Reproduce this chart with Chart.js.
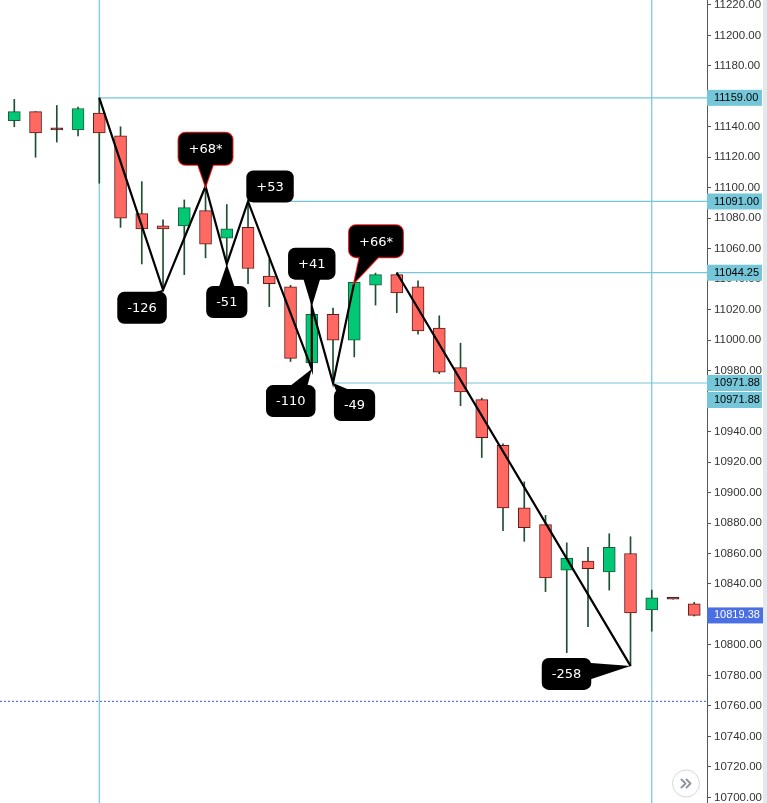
<!DOCTYPE html>
<html lang="en">
<head>
<meta charset="UTF-8">
<title>ZigZag candles</title>
<style>
  html, body { margin: 0; padding: 0; background: #fff; }
  #wrap { width: 767px; height: 803px; position: relative; }
</style>
</head>
<body>
<div id="wrap"><canvas id="chart"></canvas></div>

<script src="https://cdn.jsdelivr.net/npm/chart.js@4"></script>
<script>
// candles, one per bar
const opens  = [11144, 11150, 11138, 11138, 11149, 11134, 11083, 11075, 11075, 11085, 11067, 11074, 11042, 11035, 10985, 11017, 11000, 11036, 11043, 11035, 11008, 10982, 10961, 10931, 10890, 10879, 10849, 10855, 10848, 10860, 10823, 10830, 10827];
const highs  = [11158, 11150, 11154, 11153, 11159, 11140, 11104, 11079, 11092, 11101, 11089, 11091, 11053, 11036, 11022, 11021, 11038, 11044, 11044.25, 11039, 11016, 10998, 10962, 10932, 10907, 10885, 10867, 10864, 10873, 10871, 10836, 10830, 10828];
const lows   = [11140, 11120, 11130, 11134, 11103, 11074, 11050, 11033, 11043, 11054, 11050, 11037, 11022, 10986, 10981, 10971.88, 10989, 11023, 11018, 11004, 10978, 10957, 10923, 10875, 10868, 10835, 10795, 10812, 10836, 10786.25, 10809, 10830, 10819];
const closes = [11150, 11136, 11138, 11152, 11136, 11080, 11073, 11073, 11087, 11063, 11073, 11047, 11037, 10988, 11017, 11000, 11037.88, 11043, 11031, 11006, 10979, 10966, 10936, 10890, 10877, 10844, 10857, 10850, 10864, 10821, 10831, 10830, 10819.38];

// zigzag pivots (bar index, price); null breaks the line
const zigBars   = [4, 7, 9, 10, 11, 14, 14, 15, 16, 17, 18, 29];
const zigPrices = [11159, 11033, 11101, 11050, 11091, 10981, 11022, 10971.88, 11037.88, null, 11044.25, 10786.25];

// pivot callouts
const calloutText   = ['-126', '+68*', '-51', '+53', '-110', '+41', '-49', '+66*', '-258'];
const calloutBars   = [7, 9, 10, 11, 14, 14, 15, 16, 29];
const calloutPrices = [11033, 11101, 11050, 11091, 10981, 11022, 10971.88, 11037.88, 10786.25];

// horizontal levels: start bar + price
const levelBars   = [4, 11, 18, 15];
const levelPrices = [11159, 11091, 11044.25, 10971.88];
const axisMarks   = [11159, 11091, 11044.25, 10971.88, 10971.88];
const dottedLevel = 10763;
const markerBars  = [4, 30];

// box offsets from pivot (px), kept apart from the data
const calloutOffsets = [[-21, 18], [0, -37.5], [0, 38], [22, -15], [-21, 32], [0, -43], [21.5, 22], [21.7, -41.3], [-64, 8]];

const X_MIN = -0.673, X_MAX = 32.6;
const Y_MIN = 10696.3, Y_MAX = 11223.2;

const GREEN = '#00c875', RED = '#ff6961';
const GREEN_EDGE = '#1d5a3a', RED_EDGE = '#5e1a18', WICK = '#1f4f33';
const LEVEL = '#74c6d8';

Chart.defaults.font.family = "'Liberation Sans', Arial, sans-serif";

const idx = opens.map((_, i) => i);
const candleColor = i => closes[i] > opens[i] ? GREEN : (closes[i] < opens[i] ? RED : RED_EDGE);
const edgeColor = i => closes[i] > opens[i] ? GREEN_EDGE : RED_EDGE;

function hline(x0, y) {
    return { type: 'line', data: [{ x: x0, y: y }, { x: X_MAX, y: y }], borderColor: LEVEL, borderWidth: 1.2, pointRadius: 0, order: 5 };
}

const datasets = [
    {
        type: 'line',
        data: zigBars.map((b, i) => ({ x: b, y: zigPrices[i] })),
        borderColor: '#000', borderWidth: 2.2, pointRadius: 0, tension: 0, spanGaps: false, order: 1
    },
    {
        type: 'bar',
        data: idx.map(i => ({ x: i, y: [opens[i], closes[i]] })),
        backgroundColor: idx.map(candleColor),
        borderColor: idx.map(edgeColor),
        borderWidth: 1, borderSkipped: false, barThickness: 12, minBarLength: 2, grouped: false, order: 2
    },
    {
        type: 'bar',
        data: idx.map(i => ({ x: i, y: [lows[i], highs[i]] })),
        backgroundColor: WICK, borderWidth: 0, barThickness: 1, grouped: false, order: 3
    },
    ...levelBars.map((b, i) => hline(b, levelPrices[i])),
    ...markerBars.map(b => ({ type: 'line', data: [{ x: b, y: Y_MIN }, { x: b, y: Y_MAX }], borderColor: LEVEL, borderWidth: 1.2, pointRadius: 0, order: 5 })),
    { type: 'line', data: [{ x: X_MIN, y: dottedLevel }, { x: X_MAX, y: dottedLevel }], borderColor: '#3b5fd4', borderWidth: 1, borderDash: [2, 2], pointRadius: 0, order: 5 }
];

// callouts, price boxes on the axis, the scroll button
const overlay = {
    id: 'overlay',
    afterDraw(chart) {
        const ctx = chart.ctx, xs = chart.scales.x, ys = chart.scales.y;
        ctx.save();

        // callouts
        ctx.font = "13px 'DejaVu Sans', Verdana, sans-serif";
        calloutText.forEach((t, i) => {
            const px = xs.getPixelForValue(calloutBars[i]);
            const py = ys.getPixelForValue(calloutPrices[i]);
            const cx = px + calloutOffsets[i][0], cy = py + calloutOffsets[i][1];
            const w = ctx.measureText(t).width + 20, h = 32;
            const dx = px - cx, dy = py - cy, len = Math.hypot(dx, dy) || 1;
            const nx = -dy / len * 13, ny = dx / len * 13;
            const box = new Path2D();
            box.roundRect(cx - w / 2, cy - h / 2, w, h, 7);
            const tail = new Path2D();
            tail.moveTo(cx + nx, cy + ny);
            tail.lineTo(px, py);
            tail.lineTo(cx - nx, cy - ny);
            tail.closePath();
            if (t.endsWith('*')) {
                ctx.strokeStyle = '#ff1a1a';
                ctx.lineWidth = 2;
                ctx.stroke(box);
                ctx.stroke(tail);
            }
            ctx.fillStyle = '#000';
            ctx.fill(box);
            ctx.fill(tail);
            ctx.fillStyle = '#fff';
            ctx.textAlign = 'center';
            ctx.textBaseline = 'middle';
            ctx.fillText(t, cx, cy + 1);
        });

        // price boxes on the axis
        const ax = chart.chartArea.right;
        ctx.font = "11px 'Liberation Sans', Arial, sans-serif";
        ctx.textAlign = 'left';
        ctx.textBaseline = 'middle';
        let prev = -100;
        axisMarks.forEach(v => {
            let y = ys.getPixelForValue(v);
            if (y - prev < 17) y = prev + 17;
            prev = y;
            ctx.fillStyle = LEVEL;
            ctx.fillRect(ax, y - 8, 55, 16);
            ctx.fillStyle = '#000';
            ctx.fillText(v.toFixed(2), ax + 7, y);
        });
        const last = closes[closes.length - 1];
        const ly = ys.getPixelForValue(last);
        ctx.fillStyle = '#4a6fe3';
        ctx.fillRect(ax, ly - 8, 56, 16);
        ctx.fillStyle = '#fff';
        ctx.fillText(last.toFixed(2), ax + 7, ly);

        // right border strip
        ctx.fillStyle = '#e6e8ec';
        ctx.fillRect(763, 0, 4, chart.height);

        // scroll-to-end button
        const bx = 686, by = 783.5;
        ctx.beginPath();
        ctx.arc(bx, by, 13.5, 0, Math.PI * 2);
        ctx.fillStyle = '#fff';
        ctx.fill();
        ctx.strokeStyle = '#d4d7dc';
        ctx.lineWidth = 1;
        ctx.stroke();
        ctx.strokeStyle = '#9096a0';
        ctx.lineWidth = 2;
        ctx.lineCap = 'round';
        ctx.lineJoin = 'round';
        [-3.5, 1.5].forEach(off => {
            ctx.beginPath();
            ctx.moveTo(bx + off - 1, by - 4);
            ctx.lineTo(bx + off + 3, by);
            ctx.lineTo(bx + off - 1, by + 4);
            ctx.stroke();
        });

        ctx.restore();
    }
};

new Chart(document.getElementById('chart'), {
    type: 'bar',
    data: { datasets: datasets },
    options: {
        responsive: true,
        maintainAspectRatio: false,
        animation: false,
        layout: { padding: 0 },
        plugins: { legend: { display: false }, tooltip: { enabled: false } },
        scales: {
            x: { type: 'linear', min: X_MIN, max: X_MAX, offset: false, display: false },
            y: {
                type: 'linear',
                position: 'right',
                min: Y_MIN,
                max: Y_MAX,
                afterFit(s) {
                    s.width = 60;
                    s.paddingTop = 0;
                    s.paddingBottom = 0;
                },
                grid: { drawOnChartArea: false, drawTicks: true, tickLength: 4, color: '#555' },
                border: { display: true, color: '#555', width: 1 },
                ticks: {
                    stepSize: 20,
                    includeBounds: false,
                    autoSkip: false,
                    padding: 3,
                    color: '#333',
                    font: { size: 11.5 },
                    callback: v => v.toFixed(2)
                }
            }
        }
    },
    plugins: [overlay]
});
</script>
</body>
</html>
